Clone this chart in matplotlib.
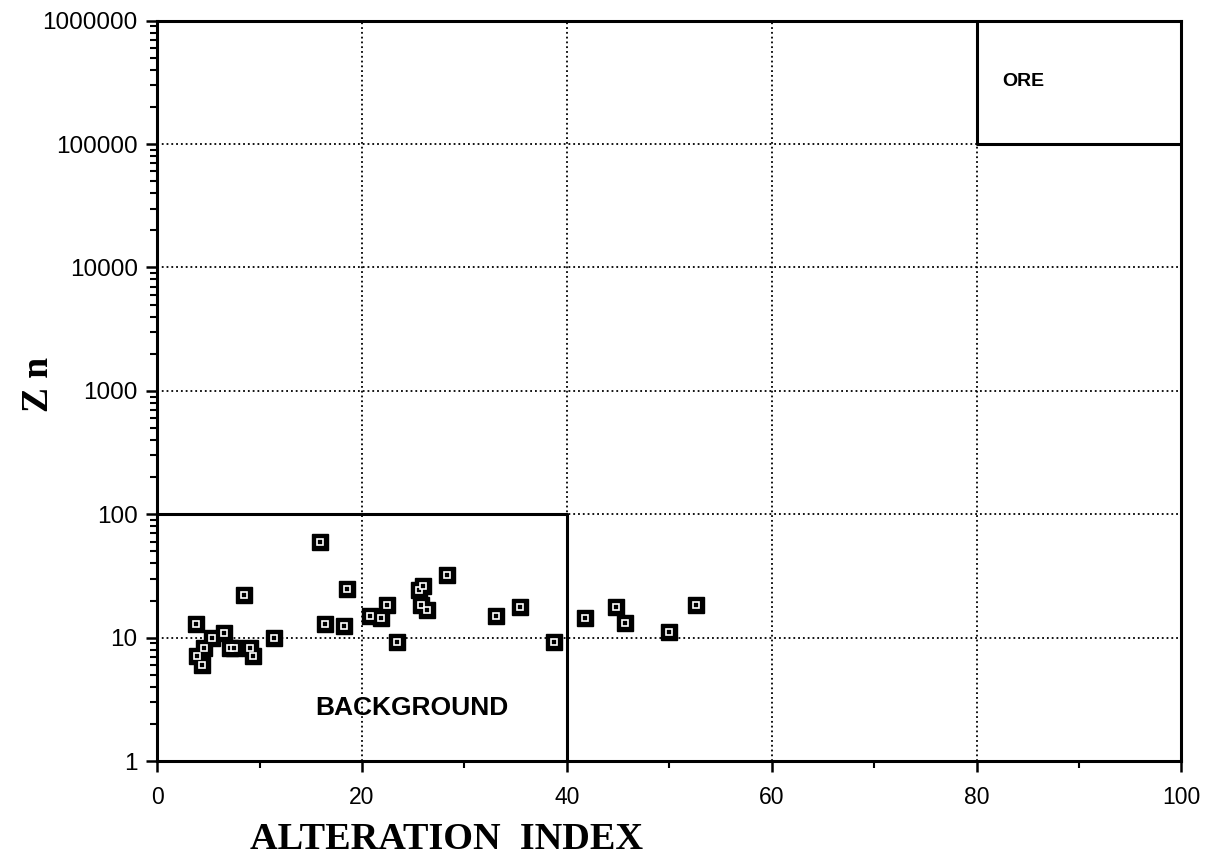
import matplotlib.pyplot as plt
import numpy as np

# indice de alteracao (x) e teor de Zn (y)
alteracao = [3.8, 3.9, 4.4, 4.6, 5.4, 6.5, 7.1, 7.5, 8.5, 9.1, 9.4, 11.4,
             15.9, 16.4, 18.2, 18.5, 20.8, 21.9, 22.4, 23.4, 25.6, 26.0,
             25.8, 26.3, 28.3, 33.1, 35.4, 38.7, 41.8, 44.8, 45.7, 50.0, 52.6]
zn = [12.8, 7.05, 6.0, 8.2, 10.0, 11.0, 8.2, 8.2, 22.3, 8.3, 7.05, 10.0,
      60.0, 12.9, 12.4, 24.9, 15.0, 14.4, 18.5, 9.2, 24.5, 26.3,
      18.5, 16.9, 32.0, 15.1, 17.6, 9.2, 14.4, 17.6, 13.1, 11.2, 18.5]

x_ticks = [0, 20, 40, 60, 80, 100]
y_ticks = [1, 10, 100, 1000, 10000, 100000, 1000000]

fig = plt.figure(figsize=(12.18, 8.61), dpi=100)
ax = fig.add_axes([0.129, 0.116, 0.841, 0.860])

ax.set_yscale('log')
ax.set_xlim(0, 100)
ax.set_ylim(1, 1e6)

# grade pontilhada
for xv in x_ticks[1:-1]:
    ax.plot([xv, xv], [1, 1e6], ':', color='black', linewidth=1.3, zorder=1)
for yv in y_ticks[1:-1]:
    ax.plot([0, 100], [yv, yv], ':', color='black', linewidth=1.3, zorder=1)

# campos BACKGROUND e ORE
ax.plot([0, 40, 40], [100, 100, 1], '-', color='black', linewidth=2.2, zorder=2)
ax.plot([80, 80, 100], [1e6, 1e5, 1e5], '-', color='black', linewidth=2.2, zorder=2)
ax.text(15.4, 2.7, 'BACKGROUND', fontsize=19, fontweight='bold',
        family='Liberation Sans', va='center', ha='left')
ax.text(82.5, 3.2e5, 'ORE', fontsize=14, fontweight='bold',
        family='Liberation Sans', va='center', ha='left')

# marcadores quadrados pretos com centro branco
ax.plot(alteracao, zn, 's', markersize=11.5, color='black', zorder=3, linestyle='none')
ax.plot(alteracao, zn, 's', markersize=4, markerfacecolor='black',
        markeredgecolor='white', markeredgewidth=1.2, zorder=4, linestyle='none')

ax.set_xticks(x_ticks)
ax.set_xticks([10, 30, 50, 70, 90], minor=True)
ax.set_yticks(y_ticks)
ax.set_yticklabels([str(v) for v in y_ticks])
ax.set_xticklabels([str(v) for v in x_ticks])
ax.tick_params(axis='both', which='major', direction='out', length=8, width=1.8,
               colors='black')
ax.tick_params(axis='both', which='minor', direction='out', length=5, width=1.5)
ax.tick_params(axis='x', which='major', pad=10, labelsize=16.5)
ax.tick_params(axis='y', which='major', pad=6, labelsize=17.5)
for lbl in ax.get_xticklabels() + ax.get_yticklabels():
    lbl.set_family('Liberation Sans')

for s in ax.spines.values():
    s.set_linewidth(2.2)

fig.text(0.367, 0.025, 'ALTERATION  INDEX', fontsize=27.5, fontweight='bold',
         family='Liberation Serif', ha='center', va='center')
fig.text(0.032, 0.553, 'Z n', fontsize=27, fontweight='bold',
         family='Liberation Serif', ha='center', va='center', rotation=90)

plt.savefig('out.png', dpi=100)
